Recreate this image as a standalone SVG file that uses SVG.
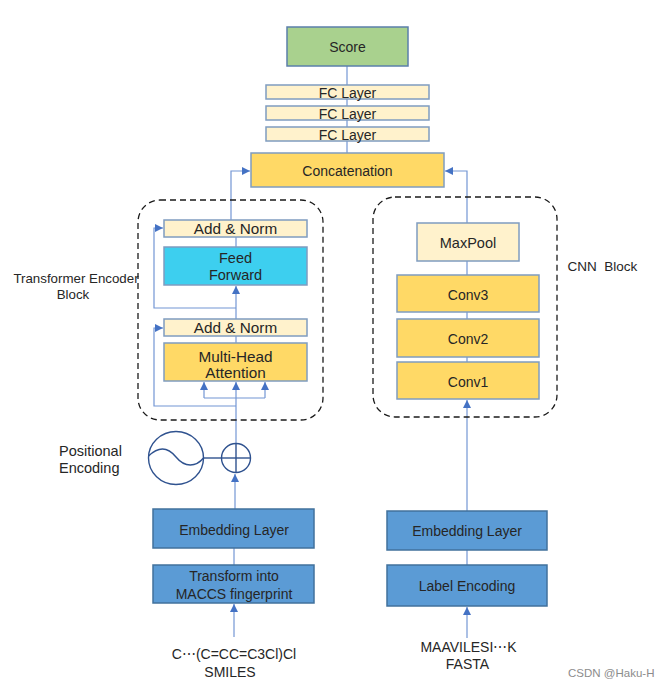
<svg xmlns="http://www.w3.org/2000/svg" width="664" height="687" viewBox="0 0 664 687">
<defs>
<marker id="arr" markerUnits="userSpaceOnUse" markerWidth="9" markerHeight="9" refX="8" refY="4" orient="auto">
<path d="M0,0 L8,4 L0,8 z" fill="#4472c4"/>
</marker>
<style>
text{font-family:"Liberation Sans","Noto Sans",Arial,sans-serif;fill:#262626;}
.c{text-anchor:middle;}
.box{stroke:#7f9cc0;stroke-width:1.5;}
.light{fill:#fff2cc;}
.gold{fill:#ffd966;}
.blue{fill:#5b9bd5;stroke:#41719c;stroke-width:1.5;}
.con{fill:none;stroke:#7396d4;stroke-width:1.2;}
.arw{marker-end:url(#arr);}
.dash{fill:none;stroke:#1a1a1a;stroke-width:1.3;stroke-dasharray:6,4;}
.pe{fill:none;stroke:#2f528f;stroke-width:1.4;}
</style>
</defs>
<rect width="664" height="687" fill="#ffffff"/>

<g id="connectors">
<line class="con" x1="347" y1="66" x2="347" y2="153"/>
<polyline class="con arw" points="231,220 231,171 250,171"/>
<polyline class="con arw" points="467,223 467,171 445,171"/>
<line class="con" x1="236" y1="237" x2="236" y2="247"/>
<line class="con arw" x1="236" y1="319" x2="236" y2="286"/>
<polyline class="con arw" points="236,308 154,308 154,228 163,228"/>
<line class="con" x1="236" y1="336" x2="236" y2="343"/>
<polyline class="con arw" points="236,406 154,406 154,328 163,328"/>
<polyline class="con" points="204,398 265,398"/>
<line class="con arw" x1="204" y1="398" x2="204" y2="382"/>
<line class="con arw" x1="265" y1="398" x2="265" y2="382"/>
<line class="con arw" x1="236" y1="443" x2="236" y2="382"/>
<line class="con arw" x1="235" y1="509" x2="235" y2="474"/>
<line class="con" x1="234" y1="548" x2="234" y2="565"/>
<line class="con arw" x1="234" y1="637" x2="234" y2="604"/>
<line class="con" x1="467" y1="261" x2="467" y2="275"/>
<line class="con" x1="467" y1="312" x2="467" y2="319"/>
<line class="con" x1="467" y1="357" x2="467" y2="362"/>
<line class="con arw" x1="467" y1="511" x2="467" y2="400"/>
<line class="con" x1="467" y1="550" x2="467" y2="565"/>
<line class="con arw" x1="467" y1="638" x2="467" y2="607"/>
</g>

<g id="score">
<rect x="287" y="27" width="121" height="39" fill="#a9d18e" stroke="#5b7faa" stroke-width="1.5"/>
<text class="c" x="347.5" y="52" font-size="14">Score</text>
</g>
<g id="fc1">
<rect class="box light" x="266" y="85" width="163" height="14"/>
<text class="c" x="347.5" y="97.5" font-size="14">FC Layer</text>
</g>
<g id="fc2">
<rect class="box light" x="266" y="106" width="163" height="14"/>
<text class="c" x="347.5" y="118.5" font-size="14">FC Layer</text>
</g>
<g id="fc3">
<rect class="box light" x="266" y="127" width="163" height="14"/>
<text class="c" x="347.5" y="139.5" font-size="14">FC Layer</text>
</g>
<g id="concatenation">
<rect class="box gold" x="251" y="153" width="193" height="34"/>
<text class="c" x="347.5" y="176" font-size="14">Concatenation</text>
</g>

<g id="transformer-block">
<rect class="dash" x="138" y="200" width="185" height="220" rx="22"/>
<text class="c" x="76" y="283" font-size="13.3">Transformer Encoder</text>
<text class="c" x="73" y="299" font-size="13.3">Block</text>
</g>
<g id="addnorm2">
<rect class="box light" x="164" y="220" width="143" height="17"/>
<text class="c" x="235.5" y="234" font-size="15.3">Add &amp; Norm</text>
</g>
<g id="feedforward">
<rect class="box" x="164" y="247" width="143" height="38" fill="#3dcfef"/>
<text class="c" x="235.5" y="262.5" font-size="14.5">Feed</text>
<text class="c" x="235.5" y="280" font-size="14.5">Forward</text>
</g>
<g id="addnorm1">
<rect class="box light" x="164" y="319" width="143" height="17"/>
<text class="c" x="235.5" y="333" font-size="15.3">Add &amp; Norm</text>
</g>
<g id="multihead">
<rect class="box gold" x="164" y="343" width="143" height="38"/>
<text class="c" x="235.5" y="361.5" font-size="15.3">Multi-Head</text>
<text class="c" x="235.5" y="377.5" font-size="15.3">Attention</text>
</g>

<g id="cnn-block">
<rect class="dash" x="373" y="197" width="184" height="220" rx="22"/>
<text x="567.5" y="271" font-size="13.5" xml:space="preserve">CNN  Block</text>
</g>
<g id="maxpool">
<rect class="box light" x="417" y="223" width="102" height="38"/>
<text class="c" x="468" y="247.5" font-size="14.5">MaxPool</text>
</g>
<g id="conv3">
<rect class="box gold" x="397" y="275" width="142" height="37"/>
<text class="c" x="468" y="299.5" font-size="14">Conv3</text>
</g>
<g id="conv2">
<rect class="box gold" x="397" y="319" width="142" height="38"/>
<text class="c" x="468" y="343.5" font-size="14">Conv2</text>
</g>
<g id="conv1">
<rect class="box gold" x="397" y="362" width="142" height="37"/>
<text class="c" x="468" y="386.5" font-size="14">Conv1</text>
</g>

<g id="positional-encoding">
<text x="59" y="455.5" font-size="14.5">Positional</text>
<text x="59" y="473" font-size="14.5">Encoding</text>
<ellipse class="pe" cx="176" cy="458" rx="27.5" ry="26.5"/>
<path class="pe" d="M148.5,456 C158,447 167,446 176,457 C185,468 196,467 203.5,458"/>
<line class="pe" x1="203.5" y1="458" x2="221.5" y2="458"/>
</g>
<g id="add-op">
<circle class="pe" cx="236" cy="458" r="14.5"/>
<line class="pe" x1="221.5" y1="458" x2="250.5" y2="458"/>
<line class="pe" x1="236" y1="443.5" x2="236" y2="472.5"/>
</g>

<g id="embedding-left">
<rect class="blue" x="153" y="509" width="161" height="39"/>
<text class="c" x="234" y="534.5" font-size="14">Embedding Layer</text>
</g>
<g id="maccs">
<rect class="blue" x="153" y="565" width="161" height="38"/>
<text class="c" x="234" y="580.5" font-size="14">Transform into</text>
<text class="c" x="234" y="599" font-size="14">MACCS fingerprint</text>
</g>
<g id="smiles">
<text class="c" x="234" y="658.5" font-size="14">C⋯(C=CC=C3Cl)Cl</text>
<text class="c" x="230" y="676.5" font-size="14">SMILES</text>
</g>

<g id="embedding-right">
<rect class="blue" x="387" y="511" width="160" height="39"/>
<text class="c" x="467" y="536" font-size="14">Embedding Layer</text>
</g>
<g id="label-encoding">
<rect class="blue" x="387" y="565" width="160" height="41"/>
<text class="c" x="467" y="591" font-size="14">Label Encoding</text>
</g>
<g id="fasta">
<text class="c" x="468.5" y="652" font-size="14">MAAVILESI⋯K</text>
<text class="c" x="467.5" y="669" font-size="14">FASTA</text>
</g>

<text x="568" y="677" font-size="11.5" style="fill:#8c8c8c">CSDN @Haku-H</text>
</svg>
